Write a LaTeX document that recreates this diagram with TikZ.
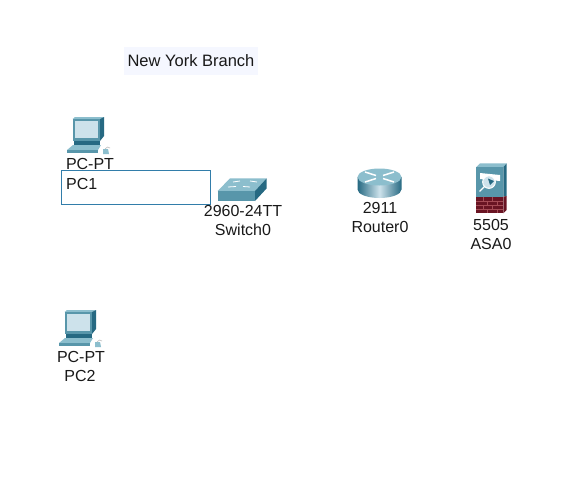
\documentclass[tikz,border=0pt]{standalone}
\usepackage{xcolor}
\usepackage{fontspec}
\setmainfont{Liberation Sans}
\usetikzlibrary{positioning}
\definecolor{mytext}{RGB}{25,25,25}
\definecolor{myframe}{RGB}{50,125,170}
\definecolor{hdrbranch}{RGB}{245,247,255}
\definecolor{iconlight}{RGB}{205,226,235}
\definecolor{iconmid}{RGB}{88,150,170}
\definecolor{icondark}{RGB}{38,105,130}
\definecolor{iconshade}{RGB}{140,190,205}
\definecolor{mybrick}{RGB}{105,20,35}
\definecolor{mymortar}{RGB}{165,75,85}
\tikzset{
  devlabel/.style={font=\fontsize{16}{18}\selectfont, text=mytext, inner sep=0pt},
  namebox/.style={rectangle, draw=myframe, fill=white, line width=0.9pt},
  branch/.style={rectangle, fill=hdrbranch, minimum width=134pt, minimum height=28pt,
    font=\fontsize{16.5}{18}\selectfont, text=mytext, inner sep=0pt},
  pc/.pic={
    \fill[iconshade] (0.7,0) -- (3,-2) -- (32,-2) -- (28,0) -- cycle;
    \fill[icondark] (28,0) -- (32,-2) -- (32,17) -- (28,22) -- cycle;
    \fill[iconmid] (0.7,0) -- (28,0) -- (28,22) -- (0.7,22) -- cycle;
    \fill[iconlight] (2.5,2) -- (26,2) -- (26,19) -- (2.5,19) -- cycle;
    \fill[icondark] (2,22) -- (28,22) -- (28,26) -- (2,26) -- cycle;
    \fill[iconshade] (1,26) -- (29,26) -- (26,31) -- (-5,31) -- cycle;
    \fill[iconmid] (-5,31) -- (26,31) -- (26,34) -- (-5,34) -- cycle;
    \fill[iconshade] (31,30) -- (36,30) -- (37,35) -- (31,35) -- cycle;
    \draw[gray!50, line width=0.6pt] (33,30) .. controls (34,28) and (37,27) .. (38,29);
  }
}
\begin{document}
\begin{tikzpicture}[x=1pt, y=-1pt]
  \useasboundingbox (0,0) rectangle (588,482);
  \fill[white] (0,0) rectangle (588,482);

  % Title
  \node[branch] (branch) at (191,61) {New York Branch};

  % PCs
  \pic at (72,119) {pc};
  \pic at (64,312) {pc};
  \node[devlabel] (pc1type) at (90,164) {PC-PT};
  \node[namebox, minimum width=149.5pt, minimum height=34.5pt] (pc1box) at (136,187.5) {};
  \node[devlabel, anchor=west] (pc1name) at (66,184) {PC1};
  \node[devlabel] (pc2type) at (81,357) {PC-PT};
  \node[devlabel] (pc2name) at (80,376) {PC2};

  % Switch
  \fill[iconshade] (217.7,191) -- (230,178.3) -- (266.7,178.3) -- (255,191) -- cycle;
  \fill[iconmid] (217.7,191) -- (255,191) -- (255,201) -- (217.7,201) -- cycle;
  \fill[icondark] (255,191) -- (266.7,178.3) -- (266.7,188.3) -- (255,201) -- cycle;
  \draw[white, line width=0.8pt] (233,182) -- (240,181) (250,181) -- (257,182) (228,187) -- (236,186.5) (243,186.5) -- (250,187);
  \node[devlabel] (swtype) at (243,211) {2960-24TT};
  \node[devlabel] (swname) at (243,230) {Switch0};

  % Router
  \shade[left color=icondark, right color=icondark, middle color=iconlight]
    (357.5,177) -- (401.5,177) -- (401.5,189.5) arc[start angle=0, end angle=180, x radius=22, y radius=8.5] -- cycle;
  \fill[iconshade] (379.5,177) ellipse[x radius=22, y radius=8.5];
  \draw[white, line width=1.5pt] (365,172) -- (376,175.5) (383,178.5) -- (394,182) (394,172) -- (383,175.5) (376,178.5) -- (365,182);
  \node[devlabel] (rttype) at (380,208) {2911};
  \node[devlabel] (rtname) at (380,227) {Router0};

  % Firewall
  \fill[iconshade] (476,167.3) -- (480,163.3) -- (506.7,163.3) -- (503.3,167.3) -- cycle;
  \fill[iconmid] (476,167.3) -- (503.3,167.3) -- (503.3,196.7) -- (476,196.7) -- cycle;
  \fill[mybrick] (476,196.7) -- (503.3,196.7) -- (503.3,213.3) -- (476,213.3) -- cycle;
  \fill[icondark] (503.3,167.3) -- (506.7,163.3) -- (506.7,196) -- (503.3,196.7) -- cycle;
  \fill[mybrick] (503.3,196.7) -- (506.7,196) -- (506.7,210) -- (503.3,213.3) -- cycle;
  \draw[mymortar, line width=0.5pt] (476,201) -- (503.3,201) (476,205) -- (503.3,205) (476,209) -- (503.3,209)
    (483,196.7) -- (483,201) (492,196.7) -- (492,201) (487,201) -- (487,205) (497,201) -- (497,205)
    (483,205) -- (483,209) (492,205) -- (492,209) (487,209) -- (487,213.3) (497,209) -- (497,213.3);
  \fill[white] (480,173) -- (500,175) -- (500,181) -- (480,179) -- cycle;
  \fill[iconlight] (489,182) circle[radius=6];
  \fill[icondark] (488,178.5) -- (494,181) -- (490,185) -- cycle;
  \draw[white, line width=1.1pt] (489,182) circle[radius=6.3] (484.5,186.5) -- (479.5,191.5);
  \node[devlabel] (asatype) at (491,225) {5505};
  \node[devlabel] (asaname) at (491,244) {ASA0};
\end{tikzpicture}
\end{document}
